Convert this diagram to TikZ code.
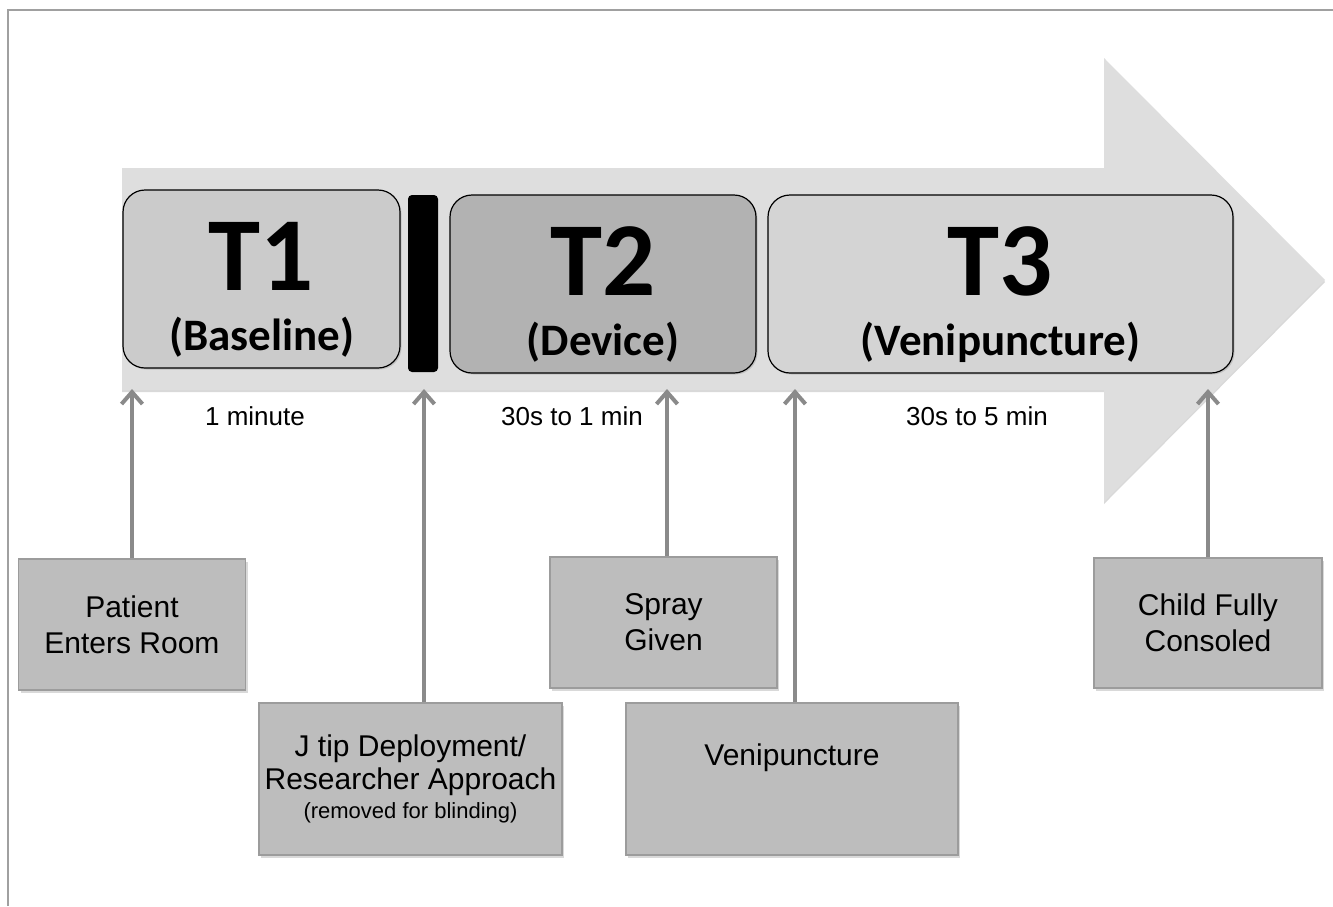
\documentclass[tikz,border=0pt]{standalone}
\usepackage{fontspec}
\setmainfont{Liberation Sans}
\newfontfamily\calfont{Carlito}
\usetikzlibrary{arrows.meta, shadows}

\definecolor{shaftgray}{HTML}{DEDEDE}
\definecolor{tonegray}{HTML}{CBCBCB}
\definecolor{ttwogray}{HTML}{B2B2B2}
\definecolor{tthreegray}{HTML}{D4D4D4}
\definecolor{eventgray}{HTML}{BDBDBD}
\definecolor{eventline}{HTML}{9C9C9C}
\definecolor{linkgray}{HTML}{8A8A8A}
\definecolor{framegray}{HTML}{A0A0A0}

\begin{document}
\begin{tikzpicture}[x=1pt, y=-1pt,
    phase/.style={draw, line width=1.2pt, rounded corners=22pt, inner sep=0pt, drop shadow={shadow xshift=1.5pt, shadow yshift=-1.5pt, opacity=0.3}},
    bigT/.style={anchor=base, font=\calfont\bfseries\fontsize{105}{105}\selectfont},
    subT/.style={anchor=base, font=\calfont\bfseries\fontsize{45}{45}\selectfont},
    event/.style={draw=eventline, line width=1.5pt, fill=eventgray, align=center, inner sep=0pt, font=\fontsize{30}{36}\selectfont, drop shadow={shadow xshift=2pt, shadow yshift=-3pt, opacity=0.3}},
    span/.style={anchor=base, font=\fontsize{26}{30}\selectfont},
    link/.style={draw=linkgray, line width=4pt, -{Straight Barb[length=12pt, width=21pt, line width=4pt]}}]
        \useasboundingbox (0,0) rectangle (1333,906);
        % Page frame
        \draw[framegray, line width=2pt] (8,906) -- (8,10) -- (1333,10);
        % Timeline arrow
        \fill[shaftgray, drop shadow={shadow xshift=0pt, shadow yshift=-2pt, opacity=0.3}] (122,168) -- (1104,168) -- (1104,58) -- (1325,280) -- (1104,502) -- (1104,390) -- (122,390) -- cycle;
        % Phases
        \foreach \n/\cx/\cy/\w/\tone/\sub in {1/261.5/279/277/tonegray/(Baseline), 2/603/284/306/ttwogray/(Device), 3/1000.5/284/465/tthreegray/(Venipuncture)} {
            \node[phase, fill=\tone, minimum width=\w pt, minimum height=178pt] (t\n) at (\cx,\cy) {};
            \node[bigT] (t\n lbl) at (\cx,\cy+11) {T\n};
            \node[subT] (t\n sub) at (\cx,\cy+71) {\sub};
        }
        \node[fill=black, rounded corners=4pt, minimum width=30pt, minimum height=177pt, inner sep=0pt] (gate) at (423,283.5) {};
        % Durations
        \node[span] (d1) at (255,425) {1 minute};
        \node[span] (d2) at (572,425) {30s to 1 min};
        \node[span] (d3) at (977,425) {30s to 5 min};
        % Events
        \node[event, minimum width=227pt, minimum height=131pt] (enter) at (132,624.5) {Patient\\Enters Room};
        \node[event, minimum width=303pt, minimum height=152pt, font=\fontsize{30}{33}\selectfont] (jtip) at (410.5,779) {J tip Deployment/\\Researcher Approach\\[-4pt]{\fontsize{22}{26}\selectfont (removed for blinding)}};
        \node[event, minimum width=227pt, minimum height=131pt] (spray) at (663.5,622.5) {Spray\\Given};
        \node[event, minimum width=332pt, minimum height=152pt, text height=21pt, text depth=49pt] (veni) at (792,779) {Venipuncture};
        \node[event, minimum width=228pt, minimum height=130pt] (child) at (1208,623) {Child Fully\\Consoled};
        \foreach \ev/\x in {enter/132, jtip/424, spray/667, veni/795, child/1208} {
            \coordinate (hit-\ev) at (\x,389);
            \draw[link] (\ev.north -| hit-\ev) -- (hit-\ev);
        }
\end{tikzpicture}
\end{document}
